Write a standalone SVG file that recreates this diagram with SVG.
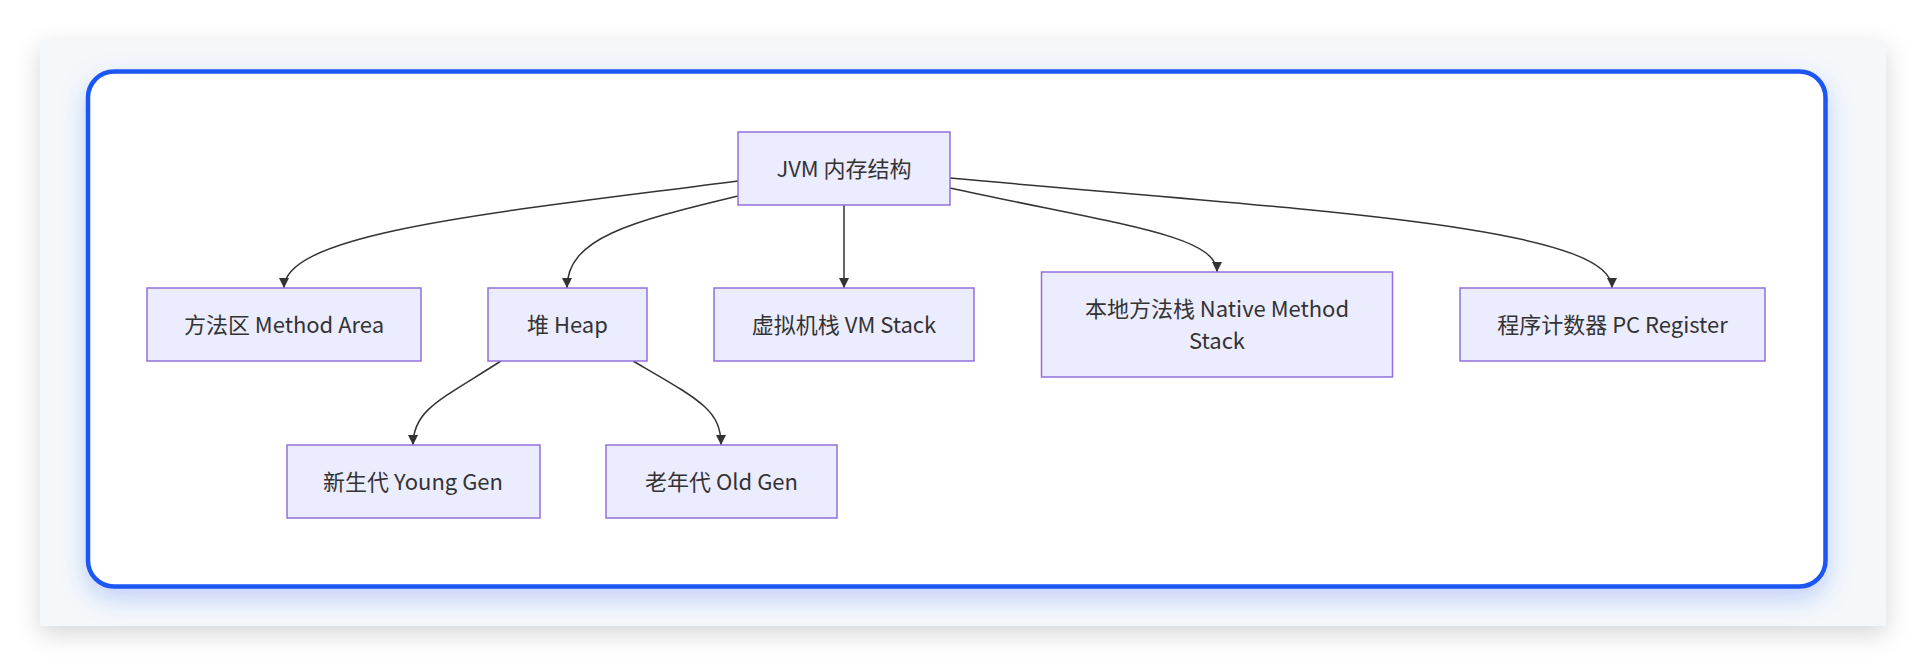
<svg xmlns="http://www.w3.org/2000/svg" width="1926" height="666" viewBox="0 0 1926 666">
<style>
.node rect{fill:#ECECFF;stroke:#9370DB;stroke-width:1.5}
.node text{font-family:"Noto Sans CJK SC","Noto Sans",sans-serif;font-size:22px;fill:#333;text-anchor:middle;dominant-baseline:central}
.edges path{fill:none;stroke:#333;stroke-width:1.5;marker-end:url(#arrow)}
</style>
<defs>
<marker id="arrow" viewBox="0 0 10 10" refX="10" refY="5" markerUnits="userSpaceOnUse" markerWidth="10" markerHeight="11" orient="auto">
<path d="M0,0 L10,5 L0,10 z" fill="#333"/>
</marker>
<filter id="panelShadow" x="-5%" y="-10%" width="110%" height="125%">
<feDropShadow dx="0" dy="8" stdDeviation="12" flood-color="#000" flood-opacity="0.16"/>
</filter>
<filter id="blueGlow" x="-5%" y="-10%" width="110%" height="125%">
<feDropShadow dx="0" dy="10" stdDeviation="12" flood-color="#1a56f5" flood-opacity="0.25"/>
</filter>
</defs>
<rect x="0" y="0" width="1926" height="666" fill="#ffffff"/>
<rect x="40" y="40" width="1846" height="586" fill="#f5f8fa" filter="url(#panelShadow)"/>
<rect x="88" y="71.5" width="1737.5" height="515" rx="26" ry="26" fill="#ffffff" stroke="#1a56f5" stroke-width="4.5" filter="url(#blueGlow)"/>
<g class="edges" id="connectors">
<path d="M738,181 C 500,212 284,232 284,288"/>
<path d="M738,196 C 630,222 567,238 567,288"/>
<path d="M844,205 L844,288"/>
<path d="M950,188 C 1120,225 1217,235 1217,272"/>
<path d="M950,178 C 1300,210 1612,225 1612,288"/>
<path d="M501,361 C 440,400 413,410 413,445"/>
<path d="M633,361 C 700,400 721,410 721,445"/>
</g>
<g class="node" id="jvm"><rect x="738" y="132" width="212" height="73"/><text x="844" y="166.5">JVM 内存结构</text></g>
<g class="node" id="method"><rect x="147" y="288" width="274" height="73"/><text x="284" y="322.5">方法区 Method Area</text></g>
<g class="node" id="heap"><rect x="488" y="288" width="159" height="73"/><text x="567.5" y="322.5">堆 Heap</text></g>
<g class="node" id="vmstack"><rect x="714" y="288" width="260" height="73"/><text x="844" y="322.5">虚拟机栈 VM Stack</text></g>
<g class="node" id="native"><rect x="1041.5" y="272" width="351" height="105"/><text x="1217" y="307">本地方法栈 Native Method</text><text x="1217" y="339">Stack</text></g>
<g class="node" id="pc"><rect x="1460" y="288" width="305" height="73"/><text x="1612.5" y="322.5">程序计数器 PC Register</text></g>
<g class="node" id="young"><rect x="287" y="445" width="253" height="73"/><text x="413" y="479.5">新生代 Young Gen</text></g>
<g class="node" id="old"><rect x="606" y="445" width="231" height="73"/><text x="721.5" y="479.5">老年代 Old Gen</text></g>
</svg>
